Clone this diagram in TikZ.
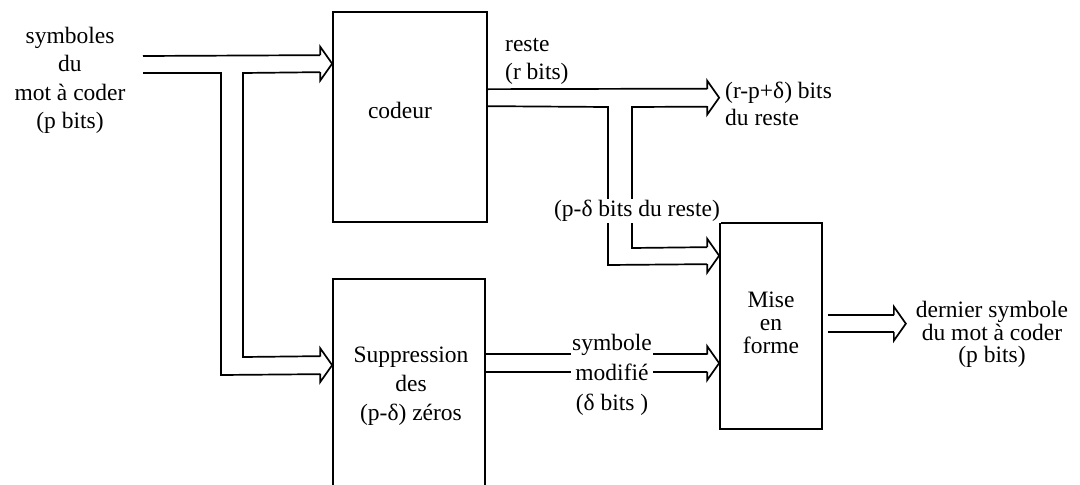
\documentclass[tikz,border=0pt]{standalone}
\usepackage{fontspec}
\setmainfont{Liberation Serif}
\usetikzlibrary{calc}
\begin{document}
\begin{tikzpicture}[x=1pt,y=-1pt,
  blk/.style={draw,line width=1.7pt,inner sep=0pt,rectangle},
  wire/.style={line width=1.7pt},
  lbl/.style={inner sep=0pt,align=center,font=\fontsize{23.5}{#1}\selectfont},
  lbl/.default=27,
  ohead/.pic={\draw[wire] (-12,-8.5) -- (-12,-17) -- (0,0) -- (-12,17) -- (-12,8.5);}
]
\useasboundingbox (0,0) rectangle (1080,485);
\clip (0,0) rectangle (1080,485);
% blocks
\node[blk,minimum width=154pt,minimum height=210pt] (cod) at (410,117) {};
\node[blk,minimum width=152pt,minimum height=221pt] (sup) at (409,389.5) {};
\node[blk,minimum width=102pt,minimum height=206pt] (mise) at (771,326) {};
% arrow tips
\coordinate (t1) at ($(cod.north west)+(0,52.5)$);
\coordinate (t2) at ($(sup.north west)+(0,87)$);
\coordinate (t3) at ($(mise.north west)+(0,-124.5)$);
\coordinate (t4) at ($(mise.north west)+(0,33.5)$);
\coordinate (t5) at ($(mise.north west)+(0,141)$);
\coordinate (t6) at ($(mise.north east)+(83,101.5)$);
\coordinate (i1) at (143,56);
\coordinate (i2) at (143,73);
% input to codeur and suppression
\draw[wire] (i1) -- ($(t1)+(-12,-8.5)$);
\draw[wire] (i2) -- (221,73) -- (221,375) -- ($(t2)+(-12,9)$);
\draw[wire] ($(t1)+(-12,8.5)$) -- (243,73) -- (243,357) -- ($(t2)+(-12,-9)$);
\pic at (t1) {ohead};
\pic at (t2) {ohead};
% codeur outputs
\draw[wire] ($(cod.north east)+(0,78)$) -- ($(t3)+(-12,-9)$);
\draw[wire] ($(cod.north east)+(0,95)$) -- (608,107) -- (608,265) -- ($(t4)+(-12,8.5)$);
\draw[wire] ($(t3)+(-12,9)$) -- (632,107) -- (632,248) -- ($(t4)+(-12,-8.5)$);
\pic at (t3) {ohead};
\pic at (t4) {ohead};
% suppression output
\draw[wire] ($(sup.north east)+(0,76)$) -- ($(t5)+(-12,-9)$);
\draw[wire] ($(sup.north east)+(0,94)$) -- ($(t5)+(-12,9)$);
\pic at (t5) {ohead};
% mise en forme output
\draw[wire] ($(mise.north east)+(5,93)$) -- ($(t6)+(-12,-8.5)$);
\draw[wire] ($(mise.north east)+(5,110)$) -- ($(t6)+(-12,8.5)$);
\pic at (t6) {ohead};
% labels
\node[lbl=28.5] (lin) at (70,80.5) {symboles\\du\\mot à coder\\(p bits)};
\node[lbl] (lcod) at (400,110) {codeur};
\node[lbl=29] (lsup) at (411,386) {Suppression\\des\\(p-δ) zéros};
\node[lbl=30,fill=white,inner sep=1pt] (lsym) at (612,375) {symbole\\modifié\\(δ bits )};
\node[lbl=28,anchor=west,align=left] (lres) at (505,61) {reste\\(r bits)};
\node[lbl=27,anchor=west,align=left] (lrpd) at (725,103.5) {(r-p+δ) bits\\du reste};
\node[lbl,fill=white,inner sep=1pt] (lpd) at (637,211) {(p-δ bits du reste)};
\node[lbl=23] (lmise) at (771,322.5) {Mise\\en\\forme};
\node[lbl=22.5] (lout) at (992,334.5) {dernier symbole\\du mot à coder\\(p bits)};
\end{tikzpicture}
\end{document}
